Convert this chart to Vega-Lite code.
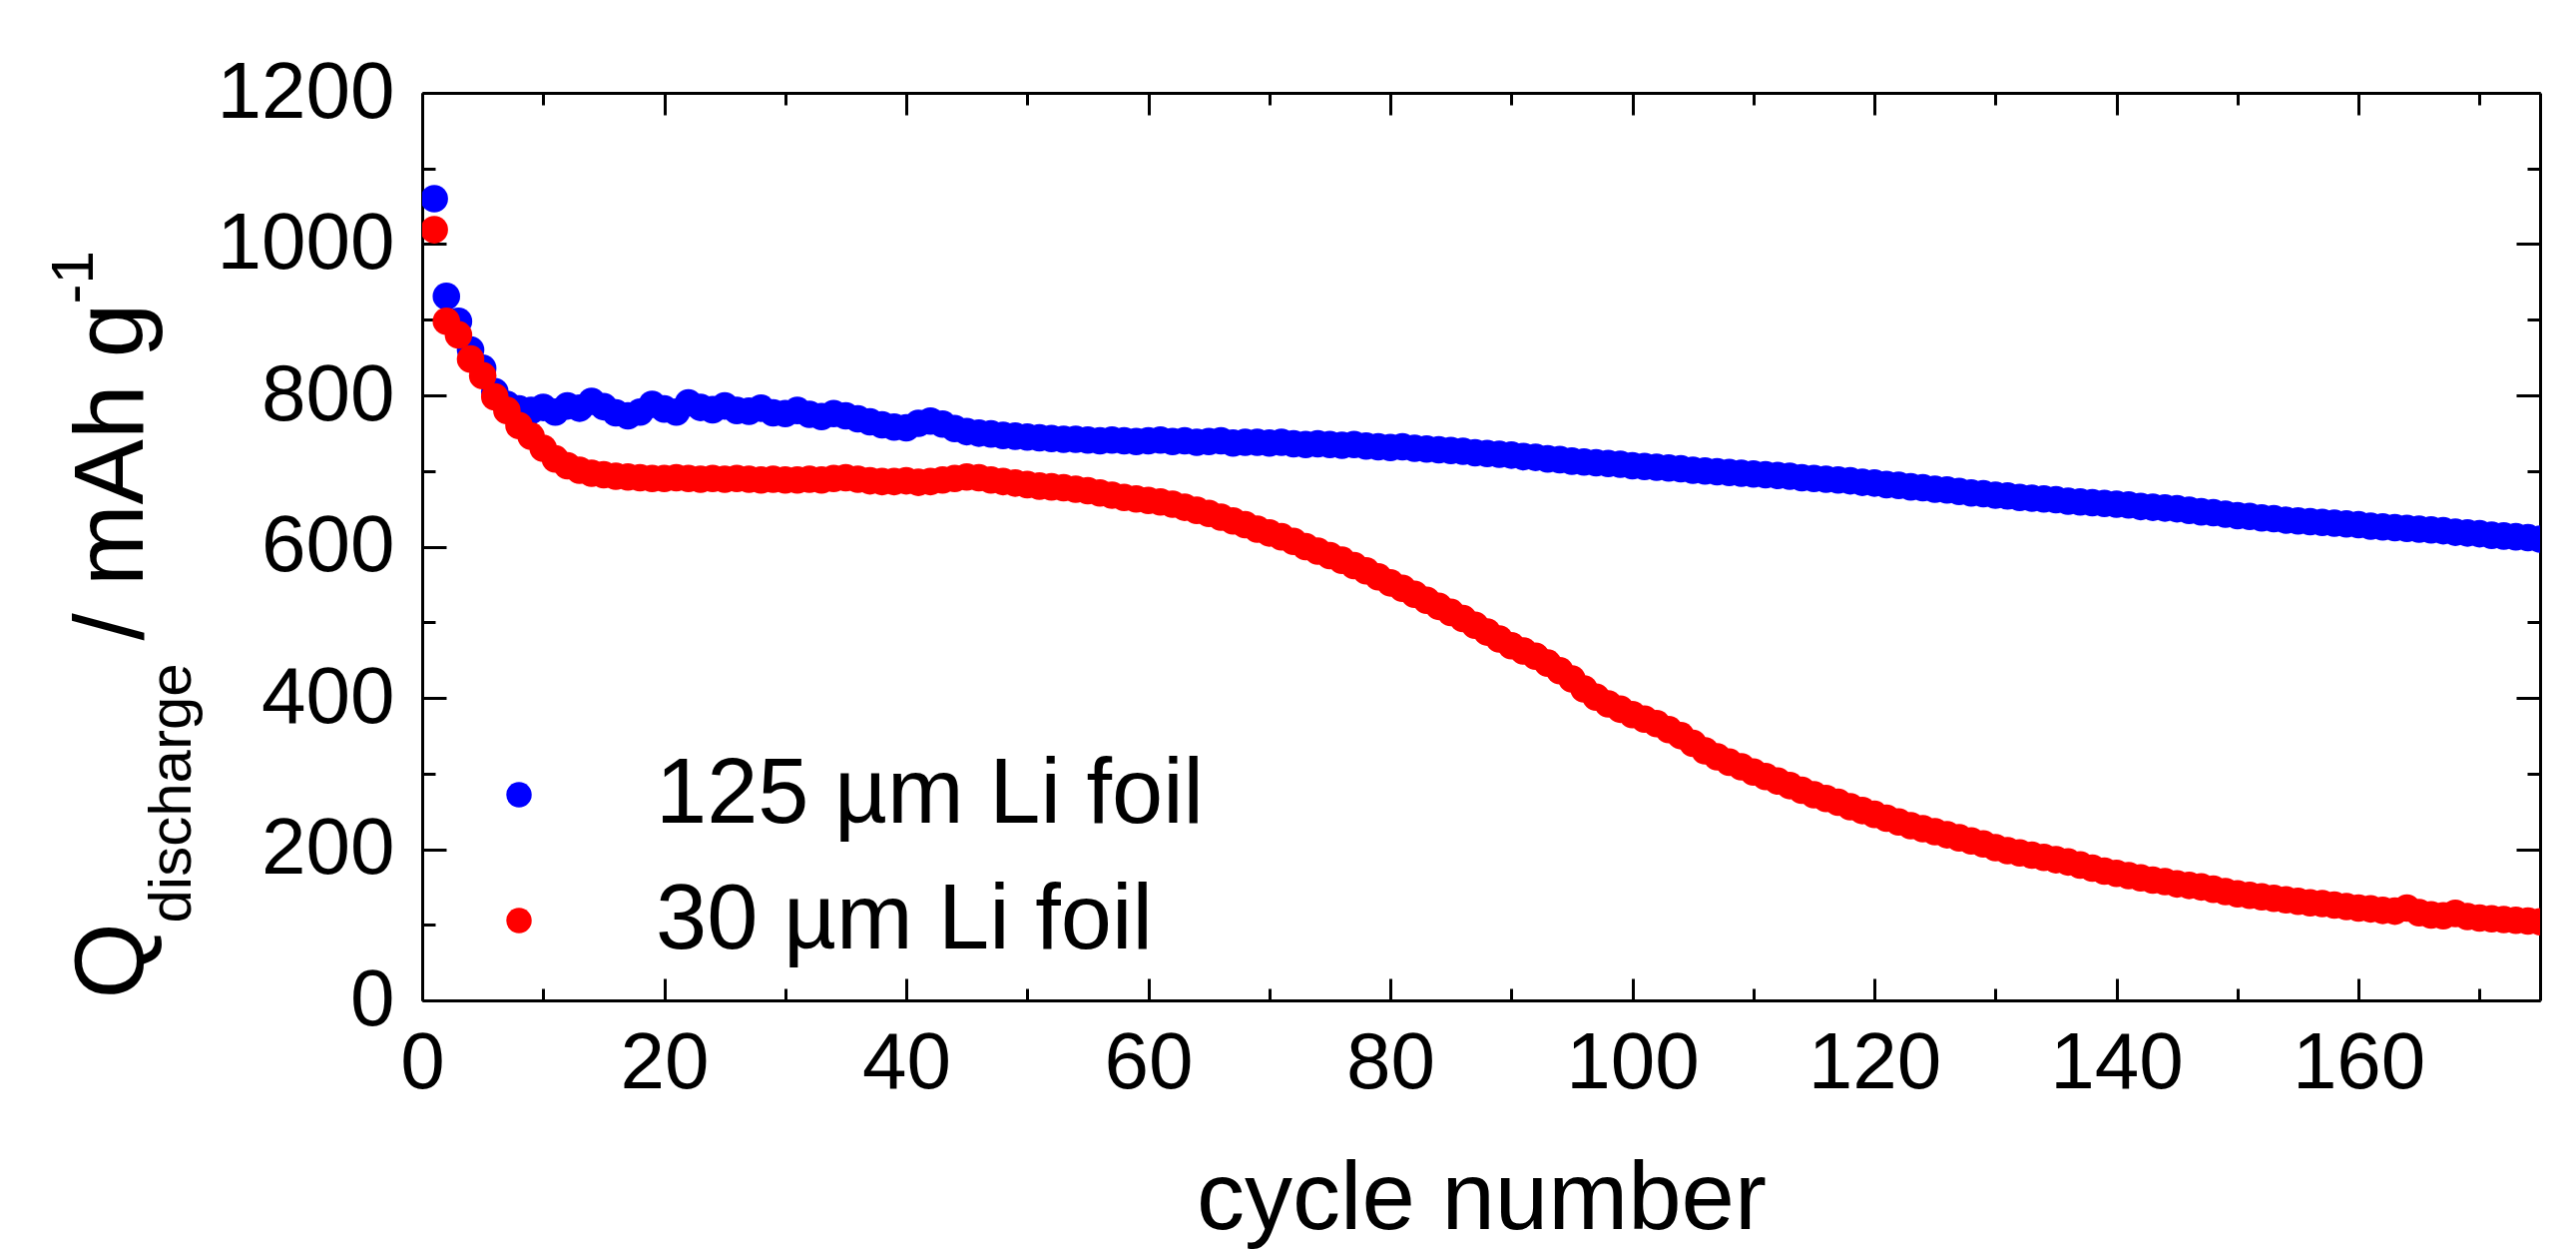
{
"$schema":"https://vega.github.io/schema/vega-lite/v6.json",
"width":2122,"height":909,
"autosize":{"type":"none"},
"padding":{"left":423,"top":93,"right":36,"bottom":250},
"background":"white",
"config":{"view":{"stroke":null},"font":"Liberation Sans",
"axis":{"grid":false,"zindex":1,"domainColor":"black","tickColor":"black","labelColor":"black","titleColor":"black","labelFont":"Liberation Sans","titleFont":"Liberation Sans","titleFontWeight":"normal","labelFlush":false,"labelLimit":1000,"labelOverlap":false,"tickWidth":3,"domainWidth":3,"labelFontSize":80,"format":"d"}},
"data":{"values":[
{"cycle":1,"capacity":1060,"foil":"125 µm Li foil"},{"cycle":2,"capacity":931,"foil":"125 µm Li foil"},{"cycle":3,"capacity":898,"foil":"125 µm Li foil"},{"cycle":4,"capacity":860,"foil":"125 µm Li foil"},{"cycle":5,"capacity":836,"foil":"125 µm Li foil"},{"cycle":6,"capacity":805,"foil":"125 µm Li foil"},{"cycle":7,"capacity":788,"foil":"125 µm Li foil"},{"cycle":8,"capacity":782,"foil":"125 µm Li foil"},{"cycle":9,"capacity":780,"foil":"125 µm Li foil"},{"cycle":10,"capacity":784,"foil":"125 µm Li foil"},
{"cycle":11,"capacity":778,"foil":"125 µm Li foil"},{"cycle":12,"capacity":786,"foil":"125 µm Li foil"},{"cycle":13,"capacity":783,"foil":"125 µm Li foil"},{"cycle":14,"capacity":792,"foil":"125 µm Li foil"},{"cycle":15,"capacity":785,"foil":"125 µm Li foil"},{"cycle":16,"capacity":777,"foil":"125 µm Li foil"},{"cycle":17,"capacity":773,"foil":"125 µm Li foil"},{"cycle":18,"capacity":778,"foil":"125 µm Li foil"},{"cycle":19,"capacity":788,"foil":"125 µm Li foil"},{"cycle":20,"capacity":782,"foil":"125 µm Li foil"},
{"cycle":21,"capacity":778,"foil":"125 µm Li foil"},{"cycle":22,"capacity":790,"foil":"125 µm Li foil"},{"cycle":23,"capacity":784,"foil":"125 µm Li foil"},{"cycle":24,"capacity":781,"foil":"125 µm Li foil"},{"cycle":25,"capacity":786,"foil":"125 µm Li foil"},{"cycle":26,"capacity":780,"foil":"125 µm Li foil"},{"cycle":27,"capacity":779,"foil":"125 µm Li foil"},{"cycle":28,"capacity":783,"foil":"125 µm Li foil"},{"cycle":29,"capacity":777,"foil":"125 µm Li foil"},{"cycle":30,"capacity":776,"foil":"125 µm Li foil"},
{"cycle":31,"capacity":780,"foil":"125 µm Li foil"},{"cycle":32,"capacity":775,"foil":"125 µm Li foil"},{"cycle":33,"capacity":772,"foil":"125 µm Li foil"},{"cycle":34,"capacity":776,"foil":"125 µm Li foil"},{"cycle":35,"capacity":773,"foil":"125 µm Li foil"},{"cycle":36,"capacity":769,"foil":"125 µm Li foil"},{"cycle":37,"capacity":765,"foil":"125 µm Li foil"},{"cycle":38,"capacity":761,"foil":"125 µm Li foil"},{"cycle":39,"capacity":758,"foil":"125 µm Li foil"},{"cycle":40,"capacity":757,"foil":"125 µm Li foil"},
{"cycle":41,"capacity":763,"foil":"125 µm Li foil"},{"cycle":42,"capacity":766,"foil":"125 µm Li foil"},{"cycle":43,"capacity":762,"foil":"125 µm Li foil"},{"cycle":44,"capacity":756,"foil":"125 µm Li foil"},{"cycle":45,"capacity":752,"foil":"125 µm Li foil"},{"cycle":46,"capacity":750,"foil":"125 µm Li foil"},{"cycle":47,"capacity":749,"foil":"125 µm Li foil"},{"cycle":48,"capacity":747,"foil":"125 µm Li foil"},{"cycle":49,"capacity":746,"foil":"125 µm Li foil"},{"cycle":50,"capacity":745,"foil":"125 µm Li foil"},
{"cycle":51,"capacity":744,"foil":"125 µm Li foil"},{"cycle":52,"capacity":743,"foil":"125 µm Li foil"},{"cycle":53,"capacity":742,"foil":"125 µm Li foil"},{"cycle":54,"capacity":742,"foil":"125 µm Li foil"},{"cycle":55,"capacity":741,"foil":"125 µm Li foil"},{"cycle":56,"capacity":740,"foil":"125 µm Li foil"},{"cycle":57,"capacity":741,"foil":"125 µm Li foil"},{"cycle":58,"capacity":740,"foil":"125 µm Li foil"},{"cycle":59,"capacity":739,"foil":"125 µm Li foil"},{"cycle":60,"capacity":740,"foil":"125 µm Li foil"},
{"cycle":61,"capacity":741,"foil":"125 µm Li foil"},{"cycle":62,"capacity":739,"foil":"125 µm Li foil"},{"cycle":63,"capacity":740,"foil":"125 µm Li foil"},{"cycle":64,"capacity":738,"foil":"125 µm Li foil"},{"cycle":65,"capacity":739,"foil":"125 µm Li foil"},{"cycle":66,"capacity":740,"foil":"125 µm Li foil"},{"cycle":67,"capacity":737,"foil":"125 µm Li foil"},{"cycle":68,"capacity":738,"foil":"125 µm Li foil"},{"cycle":69,"capacity":738,"foil":"125 µm Li foil"},{"cycle":70,"capacity":737,"foil":"125 µm Li foil"},
{"cycle":71,"capacity":738,"foil":"125 µm Li foil"},{"cycle":72,"capacity":736,"foil":"125 µm Li foil"},{"cycle":73,"capacity":735,"foil":"125 µm Li foil"},{"cycle":74,"capacity":736,"foil":"125 µm Li foil"},{"cycle":75,"capacity":735,"foil":"125 µm Li foil"},{"cycle":76,"capacity":734,"foil":"125 µm Li foil"},{"cycle":77,"capacity":735,"foil":"125 µm Li foil"},{"cycle":78,"capacity":733,"foil":"125 µm Li foil"},{"cycle":79,"capacity":732,"foil":"125 µm Li foil"},{"cycle":80,"capacity":731,"foil":"125 µm Li foil"},
{"cycle":81,"capacity":732,"foil":"125 µm Li foil"},{"cycle":82,"capacity":730,"foil":"125 µm Li foil"},{"cycle":83,"capacity":729,"foil":"125 µm Li foil"},{"cycle":84,"capacity":728,"foil":"125 µm Li foil"},{"cycle":85,"capacity":727,"foil":"125 µm Li foil"},{"cycle":86,"capacity":726,"foil":"125 µm Li foil"},{"cycle":87,"capacity":724,"foil":"125 µm Li foil"},{"cycle":88,"capacity":723,"foil":"125 µm Li foil"},{"cycle":89,"capacity":722,"foil":"125 µm Li foil"},{"cycle":90,"capacity":721,"foil":"125 µm Li foil"},
{"cycle":91,"capacity":719,"foil":"125 µm Li foil"},{"cycle":92,"capacity":718,"foil":"125 µm Li foil"},{"cycle":93,"capacity":716,"foil":"125 µm Li foil"},{"cycle":94,"capacity":715,"foil":"125 µm Li foil"},{"cycle":95,"capacity":713,"foil":"125 µm Li foil"},{"cycle":96,"capacity":712,"foil":"125 µm Li foil"},{"cycle":97,"capacity":711,"foil":"125 µm Li foil"},{"cycle":98,"capacity":710,"foil":"125 µm Li foil"},{"cycle":99,"capacity":709,"foil":"125 µm Li foil"},{"cycle":100,"capacity":707,"foil":"125 µm Li foil"},
{"cycle":101,"capacity":706,"foil":"125 µm Li foil"},{"cycle":102,"capacity":705,"foil":"125 µm Li foil"},{"cycle":103,"capacity":704,"foil":"125 µm Li foil"},{"cycle":104,"capacity":703,"foil":"125 µm Li foil"},{"cycle":105,"capacity":701,"foil":"125 µm Li foil"},{"cycle":106,"capacity":700,"foil":"125 µm Li foil"},{"cycle":107,"capacity":699,"foil":"125 µm Li foil"},{"cycle":108,"capacity":698,"foil":"125 µm Li foil"},{"cycle":109,"capacity":697,"foil":"125 µm Li foil"},{"cycle":110,"capacity":696,"foil":"125 µm Li foil"},
{"cycle":111,"capacity":695,"foil":"125 µm Li foil"},{"cycle":112,"capacity":694,"foil":"125 µm Li foil"},{"cycle":113,"capacity":693,"foil":"125 µm Li foil"},{"cycle":114,"capacity":691,"foil":"125 µm Li foil"},{"cycle":115,"capacity":690,"foil":"125 µm Li foil"},{"cycle":116,"capacity":689,"foil":"125 µm Li foil"},{"cycle":117,"capacity":688,"foil":"125 µm Li foil"},{"cycle":118,"capacity":687,"foil":"125 µm Li foil"},{"cycle":119,"capacity":685,"foil":"125 µm Li foil"},{"cycle":120,"capacity":684,"foil":"125 µm Li foil"},
{"cycle":121,"capacity":682,"foil":"125 µm Li foil"},{"cycle":122,"capacity":681,"foil":"125 µm Li foil"},{"cycle":123,"capacity":679,"foil":"125 µm Li foil"},{"cycle":124,"capacity":678,"foil":"125 µm Li foil"},{"cycle":125,"capacity":676,"foil":"125 µm Li foil"},{"cycle":126,"capacity":675,"foil":"125 µm Li foil"},{"cycle":127,"capacity":673,"foil":"125 µm Li foil"},{"cycle":128,"capacity":671,"foil":"125 µm Li foil"},{"cycle":129,"capacity":670,"foil":"125 µm Li foil"},{"cycle":130,"capacity":668,"foil":"125 µm Li foil"},
{"cycle":131,"capacity":667,"foil":"125 µm Li foil"},{"cycle":132,"capacity":665,"foil":"125 µm Li foil"},{"cycle":133,"capacity":664,"foil":"125 µm Li foil"},{"cycle":134,"capacity":663,"foil":"125 µm Li foil"},{"cycle":135,"capacity":662,"foil":"125 µm Li foil"},{"cycle":136,"capacity":660,"foil":"125 µm Li foil"},{"cycle":137,"capacity":659,"foil":"125 µm Li foil"},{"cycle":138,"capacity":658,"foil":"125 µm Li foil"},{"cycle":139,"capacity":657,"foil":"125 µm Li foil"},{"cycle":140,"capacity":656,"foil":"125 µm Li foil"},
{"cycle":141,"capacity":655,"foil":"125 µm Li foil"},{"cycle":142,"capacity":653,"foil":"125 µm Li foil"},{"cycle":143,"capacity":652,"foil":"125 µm Li foil"},{"cycle":144,"capacity":651,"foil":"125 µm Li foil"},{"cycle":145,"capacity":650,"foil":"125 µm Li foil"},{"cycle":146,"capacity":648,"foil":"125 µm Li foil"},{"cycle":147,"capacity":646,"foil":"125 µm Li foil"},{"cycle":148,"capacity":645,"foil":"125 µm Li foil"},{"cycle":149,"capacity":643,"foil":"125 µm Li foil"},{"cycle":150,"capacity":641,"foil":"125 µm Li foil"},
{"cycle":151,"capacity":640,"foil":"125 µm Li foil"},{"cycle":152,"capacity":638,"foil":"125 µm Li foil"},{"cycle":153,"capacity":637,"foil":"125 µm Li foil"},{"cycle":154,"capacity":635,"foil":"125 µm Li foil"},{"cycle":155,"capacity":634,"foil":"125 µm Li foil"},{"cycle":156,"capacity":633,"foil":"125 µm Li foil"},{"cycle":157,"capacity":632,"foil":"125 µm Li foil"},{"cycle":158,"capacity":631,"foil":"125 µm Li foil"},{"cycle":159,"capacity":630,"foil":"125 µm Li foil"},{"cycle":160,"capacity":629,"foil":"125 µm Li foil"},
{"cycle":161,"capacity":627,"foil":"125 µm Li foil"},{"cycle":162,"capacity":626,"foil":"125 µm Li foil"},{"cycle":163,"capacity":625,"foil":"125 µm Li foil"},{"cycle":164,"capacity":624,"foil":"125 µm Li foil"},{"cycle":165,"capacity":623,"foil":"125 µm Li foil"},{"cycle":166,"capacity":622,"foil":"125 µm Li foil"},{"cycle":167,"capacity":621,"foil":"125 µm Li foil"},{"cycle":168,"capacity":619,"foil":"125 µm Li foil"},{"cycle":169,"capacity":618,"foil":"125 µm Li foil"},{"cycle":170,"capacity":617,"foil":"125 µm Li foil"},
{"cycle":171,"capacity":615,"foil":"125 µm Li foil"},{"cycle":172,"capacity":614,"foil":"125 µm Li foil"},{"cycle":173,"capacity":613,"foil":"125 µm Li foil"},{"cycle":174,"capacity":612,"foil":"125 µm Li foil"},{"cycle":175,"capacity":610,"foil":"125 µm Li foil"},
{"cycle":1,"capacity":1019,"foil":"30 µm Li foil"},{"cycle":2,"capacity":898,"foil":"30 µm Li foil"},{"cycle":3,"capacity":880,"foil":"30 µm Li foil"},{"cycle":4,"capacity":848,"foil":"30 µm Li foil"},{"cycle":5,"capacity":826,"foil":"30 µm Li foil"},{"cycle":6,"capacity":798,"foil":"30 µm Li foil"},{"cycle":7,"capacity":780,"foil":"30 µm Li foil"},{"cycle":8,"capacity":760,"foil":"30 µm Li foil"},{"cycle":9,"capacity":746,"foil":"30 µm Li foil"},{"cycle":10,"capacity":730,"foil":"30 µm Li foil"},
{"cycle":11,"capacity":716,"foil":"30 µm Li foil"},{"cycle":12,"capacity":707,"foil":"30 µm Li foil"},{"cycle":13,"capacity":701,"foil":"30 µm Li foil"},{"cycle":14,"capacity":697,"foil":"30 µm Li foil"},{"cycle":15,"capacity":695,"foil":"30 µm Li foil"},{"cycle":16,"capacity":693,"foil":"30 µm Li foil"},{"cycle":17,"capacity":692,"foil":"30 µm Li foil"},{"cycle":18,"capacity":691,"foil":"30 µm Li foil"},{"cycle":19,"capacity":690,"foil":"30 µm Li foil"},{"cycle":20,"capacity":690,"foil":"30 µm Li foil"},
{"cycle":21,"capacity":691,"foil":"30 µm Li foil"},{"cycle":22,"capacity":690,"foil":"30 µm Li foil"},{"cycle":23,"capacity":689,"foil":"30 µm Li foil"},{"cycle":24,"capacity":690,"foil":"30 µm Li foil"},{"cycle":25,"capacity":689,"foil":"30 µm Li foil"},{"cycle":26,"capacity":690,"foil":"30 µm Li foil"},{"cycle":27,"capacity":689,"foil":"30 µm Li foil"},{"cycle":28,"capacity":688,"foil":"30 µm Li foil"},{"cycle":29,"capacity":689,"foil":"30 µm Li foil"},{"cycle":30,"capacity":688,"foil":"30 µm Li foil"},
{"cycle":31,"capacity":688,"foil":"30 µm Li foil"},{"cycle":32,"capacity":689,"foil":"30 µm Li foil"},{"cycle":33,"capacity":688,"foil":"30 µm Li foil"},{"cycle":34,"capacity":690,"foil":"30 µm Li foil"},{"cycle":35,"capacity":691,"foil":"30 µm Li foil"},{"cycle":36,"capacity":689,"foil":"30 µm Li foil"},{"cycle":37,"capacity":687,"foil":"30 µm Li foil"},{"cycle":38,"capacity":686,"foil":"30 µm Li foil"},{"cycle":39,"capacity":686,"foil":"30 µm Li foil"},{"cycle":40,"capacity":687,"foil":"30 µm Li foil"},
{"cycle":41,"capacity":685,"foil":"30 µm Li foil"},{"cycle":42,"capacity":686,"foil":"30 µm Li foil"},{"cycle":43,"capacity":688,"foil":"30 µm Li foil"},{"cycle":44,"capacity":690,"foil":"30 µm Li foil"},{"cycle":45,"capacity":692,"foil":"30 µm Li foil"},{"cycle":46,"capacity":691,"foil":"30 µm Li foil"},{"cycle":47,"capacity":688,"foil":"30 µm Li foil"},{"cycle":48,"capacity":686,"foil":"30 µm Li foil"},{"cycle":49,"capacity":684,"foil":"30 µm Li foil"},{"cycle":50,"capacity":682,"foil":"30 µm Li foil"},
{"cycle":51,"capacity":680,"foil":"30 µm Li foil"},{"cycle":52,"capacity":679,"foil":"30 µm Li foil"},{"cycle":53,"capacity":678,"foil":"30 µm Li foil"},{"cycle":54,"capacity":676,"foil":"30 µm Li foil"},{"cycle":55,"capacity":674,"foil":"30 µm Li foil"},{"cycle":56,"capacity":671,"foil":"30 µm Li foil"},{"cycle":57,"capacity":668,"foil":"30 µm Li foil"},{"cycle":58,"capacity":665,"foil":"30 µm Li foil"},{"cycle":59,"capacity":663,"foil":"30 µm Li foil"},{"cycle":60,"capacity":661,"foil":"30 µm Li foil"},
{"cycle":61,"capacity":659,"foil":"30 µm Li foil"},{"cycle":62,"capacity":656,"foil":"30 µm Li foil"},{"cycle":63,"capacity":652,"foil":"30 µm Li foil"},{"cycle":64,"capacity":648,"foil":"30 µm Li foil"},{"cycle":65,"capacity":644,"foil":"30 µm Li foil"},{"cycle":66,"capacity":639,"foil":"30 µm Li foil"},{"cycle":67,"capacity":634,"foil":"30 µm Li foil"},{"cycle":68,"capacity":629,"foil":"30 µm Li foil"},{"cycle":69,"capacity":623,"foil":"30 µm Li foil"},{"cycle":70,"capacity":618,"foil":"30 µm Li foil"},
{"cycle":71,"capacity":613,"foil":"30 µm Li foil"},{"cycle":72,"capacity":607,"foil":"30 µm Li foil"},{"cycle":73,"capacity":600,"foil":"30 µm Li foil"},{"cycle":74,"capacity":594,"foil":"30 µm Li foil"},{"cycle":75,"capacity":588,"foil":"30 µm Li foil"},{"cycle":76,"capacity":582,"foil":"30 µm Li foil"},{"cycle":77,"capacity":575,"foil":"30 µm Li foil"},{"cycle":78,"capacity":568,"foil":"30 µm Li foil"},{"cycle":79,"capacity":560,"foil":"30 µm Li foil"},{"cycle":80,"capacity":552,"foil":"30 µm Li foil"},
{"cycle":81,"capacity":545,"foil":"30 µm Li foil"},{"cycle":82,"capacity":537,"foil":"30 µm Li foil"},{"cycle":83,"capacity":529,"foil":"30 µm Li foil"},{"cycle":84,"capacity":521,"foil":"30 µm Li foil"},{"cycle":85,"capacity":513,"foil":"30 µm Li foil"},{"cycle":86,"capacity":505,"foil":"30 µm Li foil"},{"cycle":87,"capacity":496,"foil":"30 µm Li foil"},{"cycle":88,"capacity":487,"foil":"30 µm Li foil"},{"cycle":89,"capacity":478,"foil":"30 µm Li foil"},{"cycle":90,"capacity":469,"foil":"30 µm Li foil"},
{"cycle":91,"capacity":462,"foil":"30 µm Li foil"},{"cycle":92,"capacity":455,"foil":"30 µm Li foil"},{"cycle":93,"capacity":446,"foil":"30 µm Li foil"},{"cycle":94,"capacity":436,"foil":"30 µm Li foil"},{"cycle":95,"capacity":425,"foil":"30 µm Li foil"},{"cycle":96,"capacity":412,"foil":"30 µm Li foil"},{"cycle":97,"capacity":401,"foil":"30 µm Li foil"},{"cycle":98,"capacity":392,"foil":"30 µm Li foil"},{"cycle":99,"capacity":385,"foil":"30 µm Li foil"},{"cycle":100,"capacity":378,"foil":"30 µm Li foil"},
{"cycle":101,"capacity":372,"foil":"30 µm Li foil"},{"cycle":102,"capacity":366,"foil":"30 µm Li foil"},{"cycle":103,"capacity":358,"foil":"30 µm Li foil"},{"cycle":104,"capacity":350,"foil":"30 µm Li foil"},{"cycle":105,"capacity":340,"foil":"30 µm Li foil"},{"cycle":106,"capacity":330,"foil":"30 µm Li foil"},{"cycle":107,"capacity":322,"foil":"30 µm Li foil"},{"cycle":108,"capacity":315,"foil":"30 µm Li foil"},{"cycle":109,"capacity":309,"foil":"30 µm Li foil"},{"cycle":110,"capacity":302,"foil":"30 µm Li foil"},
{"cycle":111,"capacity":296,"foil":"30 µm Li foil"},{"cycle":112,"capacity":290,"foil":"30 µm Li foil"},{"cycle":113,"capacity":284,"foil":"30 µm Li foil"},{"cycle":114,"capacity":278,"foil":"30 µm Li foil"},{"cycle":115,"capacity":272,"foil":"30 µm Li foil"},{"cycle":116,"capacity":267,"foil":"30 µm Li foil"},{"cycle":117,"capacity":262,"foil":"30 µm Li foil"},{"cycle":118,"capacity":256,"foil":"30 µm Li foil"},{"cycle":119,"capacity":251,"foil":"30 µm Li foil"},{"cycle":120,"capacity":246,"foil":"30 µm Li foil"},
{"cycle":121,"capacity":241,"foil":"30 µm Li foil"},{"cycle":122,"capacity":236,"foil":"30 µm Li foil"},{"cycle":123,"capacity":231,"foil":"30 µm Li foil"},{"cycle":124,"capacity":227,"foil":"30 µm Li foil"},{"cycle":125,"capacity":223,"foil":"30 µm Li foil"},{"cycle":126,"capacity":219,"foil":"30 µm Li foil"},{"cycle":127,"capacity":215,"foil":"30 µm Li foil"},{"cycle":128,"capacity":211,"foil":"30 µm Li foil"},{"cycle":129,"capacity":207,"foil":"30 µm Li foil"},{"cycle":130,"capacity":202,"foil":"30 µm Li foil"},
{"cycle":131,"capacity":198,"foil":"30 µm Li foil"},{"cycle":132,"capacity":195,"foil":"30 µm Li foil"},{"cycle":133,"capacity":192,"foil":"30 µm Li foil"},{"cycle":134,"capacity":189,"foil":"30 µm Li foil"},{"cycle":135,"capacity":186,"foil":"30 µm Li foil"},{"cycle":136,"capacity":183,"foil":"30 µm Li foil"},{"cycle":137,"capacity":179,"foil":"30 µm Li foil"},{"cycle":138,"capacity":175,"foil":"30 µm Li foil"},{"cycle":139,"capacity":171,"foil":"30 µm Li foil"},{"cycle":140,"capacity":168,"foil":"30 µm Li foil"},
{"cycle":141,"capacity":165,"foil":"30 µm Li foil"},{"cycle":142,"capacity":162,"foil":"30 µm Li foil"},{"cycle":143,"capacity":159,"foil":"30 µm Li foil"},{"cycle":144,"capacity":157,"foil":"30 µm Li foil"},{"cycle":145,"capacity":154,"foil":"30 µm Li foil"},{"cycle":146,"capacity":152,"foil":"30 µm Li foil"},{"cycle":147,"capacity":150,"foil":"30 µm Li foil"},{"cycle":148,"capacity":147,"foil":"30 µm Li foil"},{"cycle":149,"capacity":144,"foil":"30 µm Li foil"},{"cycle":150,"capacity":141,"foil":"30 µm Li foil"},
{"cycle":151,"capacity":139,"foil":"30 µm Li foil"},{"cycle":152,"capacity":137,"foil":"30 µm Li foil"},{"cycle":153,"capacity":135,"foil":"30 µm Li foil"},{"cycle":154,"capacity":133,"foil":"30 µm Li foil"},{"cycle":155,"capacity":131,"foil":"30 µm Li foil"},{"cycle":156,"capacity":129,"foil":"30 µm Li foil"},{"cycle":157,"capacity":128,"foil":"30 µm Li foil"},{"cycle":158,"capacity":126,"foil":"30 µm Li foil"},{"cycle":159,"capacity":124,"foil":"30 µm Li foil"},{"cycle":160,"capacity":122,"foil":"30 µm Li foil"},
{"cycle":161,"capacity":121,"foil":"30 µm Li foil"},{"cycle":162,"capacity":119,"foil":"30 µm Li foil"},{"cycle":163,"capacity":118,"foil":"30 µm Li foil"},{"cycle":164,"capacity":122,"foil":"30 µm Li foil"},{"cycle":165,"capacity":116,"foil":"30 µm Li foil"},{"cycle":166,"capacity":113,"foil":"30 µm Li foil"},{"cycle":167,"capacity":112,"foil":"30 µm Li foil"},{"cycle":168,"capacity":115,"foil":"30 µm Li foil"},{"cycle":169,"capacity":111,"foil":"30 µm Li foil"},{"cycle":170,"capacity":109,"foil":"30 µm Li foil"},
{"cycle":171,"capacity":108,"foil":"30 µm Li foil"},{"cycle":172,"capacity":107,"foil":"30 µm Li foil"},{"cycle":173,"capacity":106,"foil":"30 µm Li foil"},{"cycle":174,"capacity":105,"foil":"30 µm Li foil"},{"cycle":175,"capacity":104,"foil":"30 µm Li foil"}
]},
"layer":[
{"mark":{"type":"circle","opacity":1,"size":760,"clip":true},
 "encoding":{
  "x":{"field":"cycle","type":"quantitative","scale":{"domain":[0,175],"nice":false,"zero":false},
   "axis":{"orient":"bottom","values":[0,20,40,60,80,100,120,140,160],"tickSize":-22,"labelPadding":46,"title":"cycle number","titleFontSize":96,"titleY":228,"titleBaseline":"alphabetic"}},
  "y":{"field":"capacity","type":"quantitative","scale":{"domain":[0,1200],"nice":false,"zero":false},
   "axis":{"orient":"left","values":[0,200,400,600,800,1000,1200],"tickSize":-24,"labelPadding":52,"title":"Q","titleFontSize":98,"titleAngle":270,"titleAlign":"left","titleBaseline":"alphabetic","titleX":-281,"titleY":907}},
  "color":{"field":"foil","type":"nominal","scale":{"domain":["125 µm Li foil","30 µm Li foil"],"range":["#0000ff","#ff0000"]},
   "legend":{"orient":"none","legendX":51,"legendY":657,"title":null,"labelFontSize":92,"labelFont":"Liberation Sans","labelColor":"black","labelLimit":2000,"symbolType":"circle","symbolSize":650,"symbolStrokeWidth":0,"symbolOpacity":1,"labelOffset":91,"rowPadding":34,"padding":0}}
 }},
{"mark":{"type":"circle","opacity":0,"size":1},
 "encoding":{
  "x":{"field":"cycle","type":"quantitative","scale":{"domain":[0,175],"nice":false,"zero":false},
   "axis":{"orient":"bottom","values":[10,30,50,70,90,110,130,150,170],"tickSize":-12,"domain":false,"labels":false,"title":null}},
  "y":{"field":"capacity","type":"quantitative","scale":{"domain":[0,1200],"nice":false,"zero":false},
   "axis":{"orient":"left","values":[100,300,500,700,900,1100],"tickSize":-13,"domain":false,"labels":false,"title":"discharge","titleFontSize":60,"titleAngle":270,"titleAlign":"left","titleBaseline":"alphabetic","titleX":-233,"titleY":831}}
 }},
{"mark":{"type":"circle","opacity":0,"size":1},
 "encoding":{
  "x":{"field":"cycle","type":"quantitative","scale":{"domain":[0,175],"nice":false,"zero":false},
   "axis":{"orient":"top","values":[0,20,40,60,80,100,120,140,160],"tickSize":-22,"labels":false,"title":null}},
  "y":{"field":"capacity","type":"quantitative","scale":{"domain":[0,1200],"nice":false,"zero":false},
   "axis":{"orient":"right","values":[0,200,400,600,800,1000,1200],"tickSize":-24,"labels":false,"title":"/ mAh g","titleFontSize":98,"titleAngle":270,"titleAlign":"left","titleBaseline":"alphabetic","titleX":-2403,"titleY":548}}
 }},
{"mark":{"type":"circle","opacity":0,"size":1},
 "encoding":{
  "x":{"field":"cycle","type":"quantitative","scale":{"domain":[0,175],"nice":false,"zero":false},
   "axis":{"orient":"top","values":[10,30,50,70,90,110,130,150,170],"tickSize":-12,"domain":false,"labels":false,"title":null}},
  "y":{"field":"capacity","type":"quantitative","scale":{"domain":[0,1200],"nice":false,"zero":false},
   "axis":{"orient":"right","values":[100,300,500,700,900,1100],"tickSize":-13,"domain":false,"labels":false,"title":"-1","titleFontSize":60,"titleAngle":270,"titleAlign":"left","titleBaseline":"alphabetic","titleX":-2453,"titleY":211}}
 }}
],
"resolve":{"axis":{"x":"independent","y":"independent"}}
}
